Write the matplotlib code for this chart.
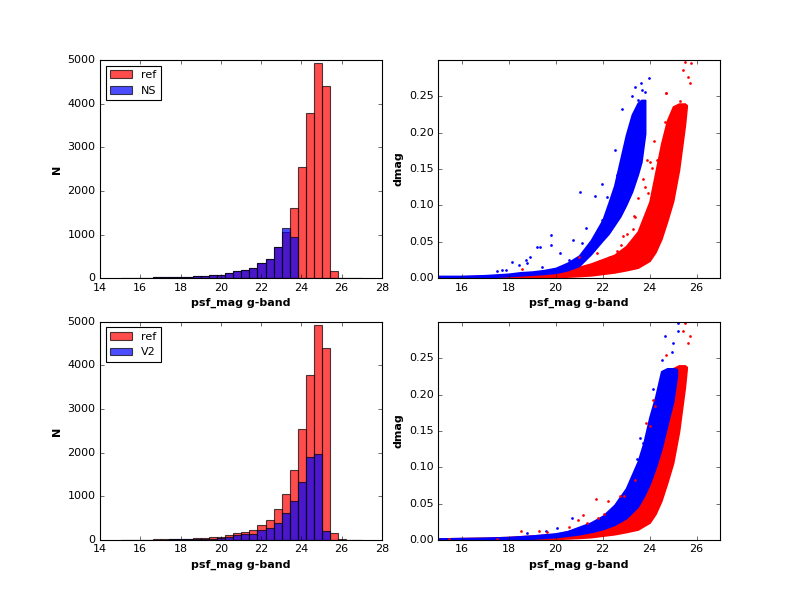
import numpy as np
import matplotlib
matplotlib.use("Agg")
import matplotlib.pyplot as plt

plt.style.use("classic")
plt.rcParams["font.size"] = 10
plt.rcParams["legend.fontsize"] = 10
plt.rcParams["figure.facecolor"] = "white"
plt.rcParams["savefig.facecolor"] = "white"

# histogram bins (30 bins over the magnitude range)
bin_start = 15.04
bin_width = 0.399

ref_counts = [4, 6, 10, 8, 18, 20, 20, 20, 24, 40, 55, 65, 80, 122, 160, 183, 240,
              355, 450, 710, 1055, 1605, 2550, 3785, 4935, 4400, 160, 12, 6, 3]
ns_counts = [4, 6, 10, 8, 18, 20, 20, 20, 24, 40, 55, 65, 80, 122, 160, 183, 240,
             355, 450, 710, 1150, 945, 0, 0, 0, 0, 0, 0, 0, 0]
v2_counts = [2, 4, 6, 5, 10, 10, 12, 12, 15, 30, 25, 28, 46, 75, 108, 130, 135,
             229, 285, 400, 611, 893, 1321, 1893, 1969, 206, 0, 0, 0, 0]

# dense part of the dmag vs mag clouds: lower/upper envelope
ref_mag = [15.0, 16.0, 17.0, 18.0, 19.0, 20.0, 21.0, 21.5, 22.0, 22.5, 23.0, 23.5,
           24.0, 24.25, 24.5, 24.75, 25.0, 25.25, 25.5, 25.58]
ref_lo = [0.0, 0.0, 0.0003, 0.0005, 0.001, 0.0015, 0.003, 0.004, 0.006, 0.008, 0.011,
          0.0145, 0.024, 0.036, 0.054, 0.079, 0.106, 0.149, 0.21, 0.236]
ref_hi = [0.002, 0.0025, 0.003, 0.004, 0.006, 0.008, 0.0155, 0.02, 0.026, 0.032, 0.044,
          0.064, 0.105, 0.145, 0.185, 0.217, 0.236, 0.240, 0.240, 0.238]

ns_mag = [15.0, 16.0, 17.0, 18.0, 18.5, 19.0, 19.5, 20.0, 20.5, 21.0, 21.5, 22.0,
          22.25, 22.5, 22.75, 23.0, 23.25, 23.5, 23.65, 23.81]
ns_lo = [0.0005, 0.001, 0.0015, 0.003, 0.004, 0.005, 0.006, 0.0075, 0.011, 0.017,
         0.033, 0.052, 0.061, 0.073, 0.085, 0.101, 0.119, 0.143, 0.160, 0.199]
ns_hi = [0.003, 0.003, 0.004, 0.006, 0.008, 0.009, 0.011, 0.014, 0.021, 0.031,
         0.052, 0.080, 0.103, 0.127, 0.162, 0.197, 0.225, 0.241, 0.245, 0.245]

v2_mag = [15.0, 16.0, 17.0, 18.0, 19.0, 20.0, 20.5, 21.0, 21.5, 22.0, 22.5, 23.0,
          23.5, 23.75, 24.0, 24.25, 24.5, 24.75, 25.0, 25.16]
v2_lo = [0.0, 0.0005, 0.001, 0.0015, 0.002, 0.004, 0.006, 0.008, 0.011, 0.015, 0.021,
         0.030, 0.046, 0.060, 0.077, 0.099, 0.125, 0.158, 0.190, 0.225]
v2_hi = [0.002, 0.0025, 0.003, 0.004, 0.006, 0.009, 0.012, 0.018, 0.024, 0.033, 0.048,
         0.071, 0.108, 0.134, 0.169, 0.197, 0.232, 0.236, 0.236, 0.235]

# scattered points outside the dense clouds
ns_out_mag = [17.50, 17.71, 17.90, 18.13, 18.42, 18.73, 18.77, 18.91, 19.20, 19.34,
              19.40, 19.81, 19.79, 20.19, 20.55, 20.73, 21.06, 21.11, 21.28, 21.68,
              21.96, 22.18, 21.98, 22.53, 22.60, 22.84, 23.03, 23.24, 23.38, 23.64,
              23.67, 23.81, 23.99, 23.52]
ns_out_dmag = [0.0096, 0.011, 0.011, 0.022, 0.018, 0.025, 0.021, 0.029, 0.043, 0.043,
               0.0156, 0.060, 0.045, 0.035, 0.025, 0.053, 0.119, 0.049, 0.069, 0.113,
               0.130, 0.111, 0.080, 0.176, 0.142, 0.233, 0.178, 0.251, 0.263, 0.269,
               0.259, 0.256, 0.275, 0.245]

ref_out1_mag = [18.56, 20.99, 21.75, 22.18, 22.32, 22.60, 22.89, 23.06, 23.31, 23.38,
                23.74, 23.81, 23.88, 23.95, 24.02, 24.09, 24.19, 24.30, 24.45, 24.69,
                24.66, 24.73, 25.30, 25.44, 25.65, 25.72, 25.75, 25.51, 24.72, 23.51,
                23.34, 22.80, 21.88, 21.03]
ref_out1_dmag = [0.012, 0.029, 0.034, 0.020, 0.029, 0.038, 0.058, 0.061, 0.068, 0.084,
                 0.137, 0.126, 0.162, 0.117, 0.160, 0.151, 0.188, 0.162, 0.139, 0.254,
                 0.215, 0.201, 0.243, 0.286, 0.277, 0.268, 0.296, 0.297, 0.255, 0.110,
                 0.085, 0.045, 0.023, 0.011]

v2_out_mag = [18.77, 19.58, 20.08, 20.69, 21.04, 22.32, 22.74, 23.20, 23.45, 23.60,
              23.74, 24.13, 24.52, 24.66, 25.01, 25.20, 25.23, 24.94]
v2_out_dmag = [0.009, 0.012, 0.016, 0.030, 0.014, 0.036, 0.046, 0.078, 0.112, 0.140,
               0.133, 0.207, 0.248, 0.281, 0.271, 0.288, 0.298, 0.259]

ref_out2_mag = [18.52, 19.31, 19.62, 20.59, 20.97, 21.18, 21.33, 21.72, 21.82, 22.25,
                22.04, 22.74, 22.93, 23.38, 23.84, 24.00, 24.13, 24.23, 24.69, 25.44,
                25.51, 25.72, 25.65, 15.44, 17.50]
ref_out2_dmag = [0.0128, 0.0128, 0.0106, 0.0183, 0.028, 0.034, 0.023, 0.057, 0.030,
                 0.053, 0.036, 0.060, 0.060, 0.083, 0.161, 0.157, 0.193, 0.184, 0.255,
                 0.288, 0.298, 0.280, 0.271, 0.001, 0.002]


def draw_hist(ax, counts, color, label):
    edges = bin_start + bin_width * np.arange(len(counts))
    ax.bar(edges, counts, width=bin_width, align="edge", color=color,
           edgecolor="black", linewidth=1.0, alpha=0.7, label=label)


def draw_cloud(ax, mag, lo, hi, color):
    ax.fill_between(mag, lo, hi, facecolor=color, edgecolor=color, linewidth=1.6)


def draw_points(ax, mag, dmag, color):
    ax.scatter(mag, dmag, s=6, c=color, marker="o", linewidths=0)


fig, axes = plt.subplots(2, 2, figsize=(10, 7.5))

for row, (counts, name) in enumerate([(ns_counts, "NS"), (v2_counts, "V2")]):
    ax = axes[row, 0]
    draw_hist(ax, ref_counts, "red", "ref")
    draw_hist(ax, counts, "blue", name)
    ax.set_xlim(14, 28)
    ax.set_ylim(0, 5000)
    ax.set_xlabel("psf_mag g-band", fontweight="bold")
    ax.set_ylabel("N", fontweight="bold")
    ax.legend(loc="upper left", fancybox=False, borderaxespad=0.5)

ax = axes[0, 1]
draw_cloud(ax, ref_mag, ref_lo, ref_hi, "red")
draw_cloud(ax, ns_mag, ns_lo, ns_hi, "blue")
draw_points(ax, ns_out_mag, ns_out_dmag, "blue")
draw_points(ax, ref_out1_mag, ref_out1_dmag, "red")

ax = axes[1, 1]
draw_cloud(ax, ref_mag, ref_lo, ref_hi, "red")
draw_cloud(ax, v2_mag, v2_lo, v2_hi, "blue")
draw_points(ax, v2_out_mag, v2_out_dmag, "blue")
draw_points(ax, ref_out2_mag, ref_out2_dmag, "red")

for ax in axes[:, 1]:
    ax.set_xlim(15, 27)
    ax.set_ylim(0, 0.3)
    ax.set_xticks([16, 18, 20, 22, 24, 26])
    ax.set_yticks([0.0, 0.05, 0.10, 0.15, 0.20, 0.25])
    ax.set_xlabel("psf_mag g-band", fontweight="bold")
    ax.set_ylabel("dmag", fontweight="bold")

fig.savefig("out.png", dpi=80)
